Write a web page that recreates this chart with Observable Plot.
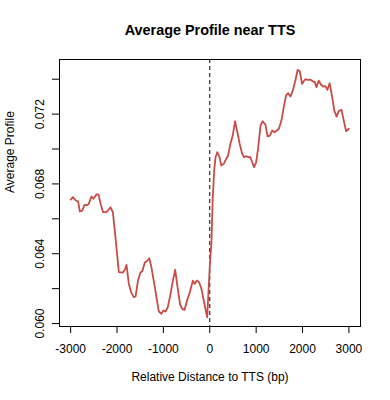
<!DOCTYPE html>
<html>
<head>
<meta charset="utf-8">
<script src="https://cdn.jsdelivr.net/npm/d3@7"></script>
<script src="https://cdn.jsdelivr.net/npm/@observablehq/plot@0.6"></script>
<style>
  html, body { margin: 0; padding: 0; background: #fff; }
  svg { display: block; }
</style>
</head>
<body>
<div id="chart"></div>
<script>
const title = "Average Profile near TTS";
const xTitle = "Relative Distance to TTS (bp)";
const yTitle = "Average Profile";

const distance = [-3000,-2950,-2890,-2840,-2800,-2750,-2700,-2640,-2610,-2550,-2510,-2440,-2400,-2350,-2300,-2230,-2180,-2140,-2090,-2030,-1960,-1875,-1830,-1795,-1745,-1695,-1640,-1600,-1545,-1495,-1455,-1400,-1360,-1305,-1265,-1215,-1155,-1100,-1045,-1000,-955,-905,-845,-795,-745,-695,-640,-595,-545,-490,-430,-365,-325,-280,-230,-180,-130,-75,-55,0,35,65,95,125,160,210,250,300,355,395,445,495,545,595,645,700,740,785,830,875,915,955,1000,1045,1095,1140,1200,1245,1295,1345,1395,1445,1490,1545,1595,1645,1690,1740,1790,1845,1895,1940,1990,2025,2060,2110,2165,2220,2265,2300,2350,2400,2445,2495,2535,2585,2640,2685,2735,2780,2840,2890,2940,3000];

const profile = [0.0671,0.06724,0.06705,0.0670,0.06642,0.06647,0.0668,0.06678,0.06686,0.06728,0.06715,0.0674,0.0674,0.06682,0.06638,0.06638,0.06652,0.06666,0.06638,0.06485,0.06294,0.06292,0.06308,0.06336,0.06227,0.06179,0.06151,0.06155,0.0625,0.06292,0.063,0.0635,0.06357,0.06374,0.06332,0.06256,0.0616,0.0607,0.06056,0.06074,0.06069,0.06093,0.0617,0.06246,0.06308,0.06208,0.06109,0.06084,0.06078,0.06132,0.06179,0.06246,0.06227,0.06246,0.06237,0.06199,0.06132,0.06060,0.06036,0.06330,0.06460,0.06724,0.06877,0.06953,0.06982,0.06953,0.06905,0.06915,0.06944,0.06963,0.0703,0.07077,0.07159,0.07096,0.0703,0.06972,0.06953,0.06959,0.06953,0.06953,0.06924,0.06896,0.06924,0.0701,0.07135,0.07159,0.0714,0.07072,0.07077,0.07106,0.07096,0.07106,0.07116,0.07163,0.0724,0.07306,0.0732,0.07301,0.07335,0.07392,0.07454,0.07446,0.07373,0.07388,0.074,0.07396,0.07398,0.07388,0.07383,0.07354,0.07392,0.07368,0.07358,0.0736,0.07339,0.07377,0.07297,0.0722,0.07186,0.07217,0.07225,0.07163,0.07102,0.07116];

const xTicks = [-3000,-2000,-1000,0,1000,2000,3000];
const yTicks = [0.060,0.062,0.064,0.066,0.068,0.070,0.072,0.074];
const yTickLabels = ["0.060","","0.064","","0.068","","0.072",""];

const data = distance.map((d, i) => ({x: d, y: profile[i]}));

const font = "'Liberation Sans', Arial, Helvetica, sans-serif";

const chart = Plot.plot({
  width: 390,
  height: 400,
  marginLeft: 59,
  marginRight: 30,
  marginTop: 59,
  marginBottom: 74,
  style: {fontFamily: font, fontSize: "12px", background: "#fff", color: "#000"},
  x: {domain: [-3240, 3250]},
  y: {domain: [0.05983, 0.07513]},
  marks: [
    Plot.frame({stroke: "#000", strokeWidth: 1}),
    Plot.axisX({ticks: xTicks, tickSize: 7, tickPadding: 11, tickFormat: d => String(d), label: null, fontSize: 12}),
    Plot.axisY({ticks: yTicks, tickSize: 7, tickPadding: 9, tickRotate: -90,
      tickFormat: d => yTickLabels[yTicks.indexOf(d)] ?? "", label: null, fontSize: 12}),
    Plot.ruleX([0], {stroke: "#000", strokeWidth: 1, strokeDasharray: "4,3"}),
    Plot.line(data, {x: "x", y: "y", stroke: "#c94c47", strokeWidth: 1.8}),
    Plot.text([title], {frameAnchor: "top", dy: -25, lineAnchor: "bottom", fontSize: 14.4, fontWeight: "bold", fill: "#000"}),
    Plot.text([xTitle], {frameAnchor: "bottom", dy: 54, lineAnchor: "bottom", fontSize: 12, fill: "#000"}),
    Plot.text([yTitle], {frameAnchor: "left", dx: -49, rotate: -90, lineAnchor: "middle", fontSize: 12, fill: "#000"})
  ]
});

document.getElementById("chart").appendChild(chart);
</script>
</body>
</html>
